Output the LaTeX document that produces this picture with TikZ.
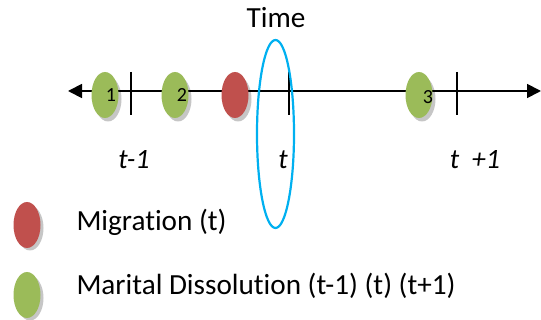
\documentclass[tikz,border=0pt]{standalone}
\usepackage{fontspec}
\setmainfont[Ligatures=NoCommon]{Carlito}
\usetikzlibrary{arrows.meta,shapes.geometric}
\definecolor{ogreen}{HTML}{9BBB59}
\definecolor{ored}{HTML}{C0504D}
\definecolor{oblue}{HTML}{00B0F0}
\begin{document}
\begin{tikzpicture}[x=1pt,y=-1pt,
  dot/.style={ellipse,minimum width=27pt,minimum height=46pt,inner sep=0pt},
  tick/.style={line width=1.8pt},
  lab/.style={font=\fontsize{29.2}{33}\selectfont},
  num/.style={font=\fontsize{20}{23}\selectfont},
  tl/.style={font=\fontsize{28}{32}\selectfont\itshape}]
\useasboundingbox (0,0) rectangle (541,320);
% shadows
\foreach \x/\y in {105/96,175/96,235/96,419/96,27/225,27/295}
  \fill[gray!45] (\x+3,\y+3) ellipse (13.5pt and 22.5pt);
% axis
\coordinate (L) at (68,91);
\coordinate (R) at (541,91);
\draw[line width=1.8pt,{Triangle[length=14pt,width=14pt]}-{Triangle[length=14pt,width=14pt]}] (L) -- (R);
% ticks
\foreach \x [count=\i] in {131,289,457}{
  \coordinate (ta\i) at (\x,72);
  \coordinate (tb\i) at (\x,115);
  \draw[tick] (ta\i) -- (tb\i);
}
% ellipses
\node[dot,fill=ogreen] (e1) at (105,95) {};
\node[dot,fill=ogreen] (e2) at (175,95) {};
\node[dot,fill=ored] (e3) at (235,95) {};
\node[dot,fill=ogreen] (e4) at (419,95) {};
\node[num] (n1) at (111,95) {1};
\node[num] (n2) at (182,95) {2};
\node[num] (n3) at (428,97) {3};
% blue ellipse
\draw[oblue,line width=2.2pt] (275.5,134) ellipse (18.5pt and 94pt);
\node[lab] (time) at (276,18) {Time};
% time labels
\node[tl] (tm1) at (134,160) {t-1};
\node[tl] (t0) at (283,160) {t};
\node[tl] (tp1) at (475,160) {t \ +1};
% legend
\node[dot,fill=ored] (lr) at (27,225) {};
\node[dot,fill=ogreen] (lg) at (27,295) {};
\node[lab,anchor=west] (mig) at (73,222) {Migration (t)};
\node[lab,anchor=west] (mar) at (73,286) {Marital Dissolution (t-1) (t) (t+1)};
\end{tikzpicture}
\end{document}
